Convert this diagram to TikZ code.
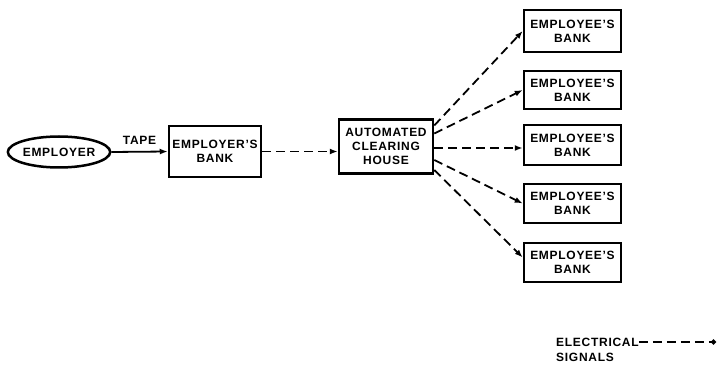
\documentclass[tikz,border=0pt]{standalone}
\usepackage{fontspec}
\setmainfont{Liberation Sans}[LetterSpace=6]
\usetikzlibrary{shapes.geometric,arrows.meta,calc}
\begin{document}
\begin{tikzpicture}[x=1pt,y=-1pt,
  lbl/.style={font=\bfseries\fontsize{12}{14}\selectfont, align=center, inner sep=0pt},
  box/.style={lbl, draw, line width=2.5pt, rectangle},
  link/.style={line width=1.8pt, -{Latex[length=8pt,width=6pt]}},
  sig/.style={link, dash pattern=on 9pt off 5pt}]
\useasboundingbox (0,0) rectangle (720,366);

% source and its bank
\node[lbl, draw, ellipse, line width=2.5pt, minimum width=94pt, minimum height=31pt] (emp) at (59,152) {EMPLOYER};
\node[box, minimum width=92pt, minimum height=51pt] (ebank) at (215,151.5) {EMPLOYER'S\\BANK};
\node[box, minimum width=94pt, minimum height=54pt] (ach) at (386,146.5) {AUTOMATED\\CLEARING\\HOUSE};

% receiving banks
\node[box, minimum width=97pt, minimum height=42pt] (b1) at (572.5,31) {EMPLOYEE'S\\BANK};
\node[box, minimum width=97pt, minimum height=38pt] (b2) at (572.5,90) {EMPLOYEE'S\\BANK};
\node[box, minimum width=97pt, minimum height=40pt] (b3) at (572.5,145) {EMPLOYEE'S\\BANK};
\node[box, minimum width=97pt, minimum height=39pt] (b4) at (572.5,203.5) {EMPLOYEE'S\\BANK};
\node[box, minimum width=97pt, minimum height=39pt] (b5) at (572.5,262.5) {EMPLOYEE'S\\BANK};

% connectors
\draw[link] (emp.east) -- node[lbl, above=6pt] (tape) {TAPE} (ebank.west);
\draw[sig] (ebank.east) -- (ebank.east -| ach.west);
\draw[sig] ($(ach.east)+(0,-21)$) -- (b1.west);
\draw[sig] ($(ach.east)+(0,-13)$) -- (b2.west);
\draw[sig] ($(ach.east)+(0,1.5)$) -- ($(b3.west)+(0,3)$);
\draw[sig] ($(ach.east)+(0,13.5)$) -- (b4.west);
\draw[sig] ($(ach.east)+(0,23.5)$) -- ($(b5.west)+(0,-5)$);

% legend
\node[lbl, anchor=west] (lgE) at (556,342) {ELECTRICAL};
\node[lbl, anchor=west] (lgS) at (556,357) {SIGNALS};
\coordinate (lgEnd) at (716,342);
\draw[line width=1.8pt, dash pattern=on 9pt off 5pt, -{Circle[length=5pt]}] (lgE.east) -- (lgEnd);
\end{tikzpicture}
\end{document}
